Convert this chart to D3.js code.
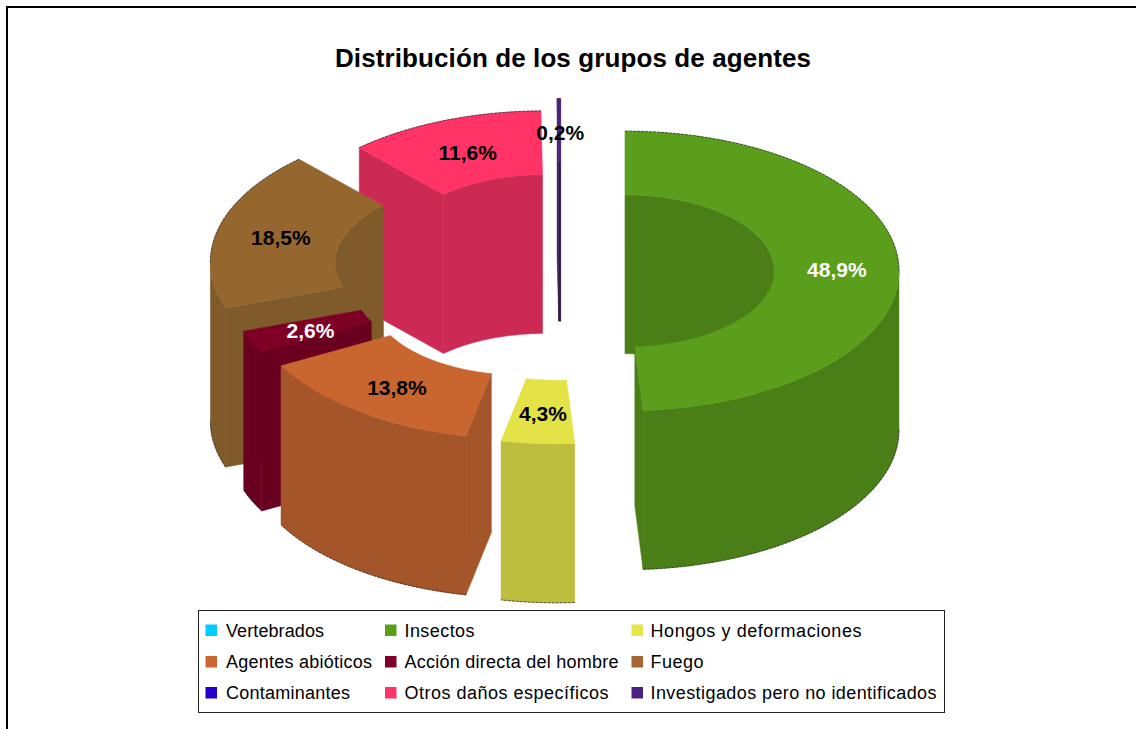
<!DOCTYPE html>
<html><head><meta charset="utf-8">
<script src="https://cdn.jsdelivr.net/npm/d3@7"></script>
<style>html,body{margin:0;padding:0;background:#fff;overflow:hidden}svg{display:block}text{font-family:"Liberation Sans",Arial,sans-serif}</style>
</head><body><svg id="c" width="1136" height="729"></svg>
<script>
const titleText = "Distribución de los grupos de agentes";
const categories = ["Vertebrados","Insectos","Hongos y deformaciones","Agentes abióticos","Acción directa del hombre","Fuego","Contaminantes","Otros daños específicos","Investigados pero no identificados"];
const values = [0,48.9,4.3,13.8,2.6,18.5,0,11.6,0.2];
const explosion = [0,64,63,66,64,79,0,45,66];
const topColors = ["#00ccff","#5a9e1c","#e3e348","#c9652f","#7e0026","#96662f","#2200cc","#ff3366","#4a2180"];
const wallColors = ["#00a0cc","#4a7f18","#bdbd3e","#a5552a","#6a001f","#7f5a2a","#1a00a0","#cc2a55","#33194f"];
const swatchColors = ["#00ccff","#599f1c","#e6e64c","#cc6633","#800028","#a66633","#2200cc","#ff3366","#4d1f80"];
const labelColors = ["#000","#fff","#000","#000","#fff","#000","#000","#000","#000"];
const legendTextWidths = [98,70,211,146,214,53,124,204,286];
const drawOrder = [8,7,5,4,3,2,1];

const svg = d3.select("#c");
svg.append("rect").attr("x",7).attr("y",7).attr("width",1160).attr("height",760).attr("fill","#fff").attr("stroke","#000").attr("stroke-width",2);
svg.append("text").attr("x",335).attr("y",67).attr("textLength",476).attr("lengthAdjust","spacing").attr("font-weight","bold").attr("font-size",26).text(titleText);

const cx0=561, cy0=272, rx=274, tilt=0.51, holeRatio=0.545, depth=159, labelR=0.77;
const radius = d3.scaleLinear().domain([0,1]).range([0,rx]);
const pie = d3.pie().sort(null).value(d=>d).startAngle(0).endAngle(2*Math.PI);
const arcs = pie(values);
const line = d3.line();
function center(i){ const m=(arcs[i].startAngle+arcs[i].endAngle)/2, e=explosion[i];
  return [cx0+e*Math.sin(m), cy0-e*tilt*Math.cos(m)]; }
function pt(c,a,r,z){ return [c[0]+radius(r)*Math.sin(a), c[1]-radius(r)*tilt*Math.cos(a)+z]; }
function samples(a0,a1){ const n=Math.max(2,Math.ceil((a1-a0)/0.02)); return d3.range(n+1).map(k=>a0+(a1-a0)*k/n); }
function wall(c,r,a0,a1){ const s=samples(a0,a1); return line([...s.map(a=>pt(c,a,r,0)),...s.slice().reverse().map(a=>pt(c,a,r,depth))])+"Z"; }
function clipRange(a0,a1,lo,hi){ const x=Math.max(a0,lo), y=Math.min(a1,hi); return x<y?[x,y]:null; }
const PI=Math.PI;
const g = svg.append("g");
drawOrder.forEach(i=>{
  const d=arcs[i], a0=d.startAngle, a1=d.endAngle, c=center(i), sl=g.append("g");
  const paint=(p,col)=>sl.append("path").attr("d",p).attr("fill",col).attr("stroke",col).attr("stroke-width",0.5);
  const edge=p=>sl.append("path").attr("d",p).attr("fill","none").attr("stroke","#222").attr("stroke-width",1).attr("stroke-dasharray","3,1").attr("stroke-opacity",0.7);
  // inner wall: far half only
  [[0,PI/2],[3*PI/2,2*PI]].forEach(([lo,hi])=>{const q=clipRange(a0,a1,lo,hi); if(q) paint(wall(c,holeRatio,q[0],q[1]),wallColors[i]);});
  // cut faces
  const cut=a=>line([pt(c,a,holeRatio,0),pt(c,a,1,0),pt(c,a,1,depth),pt(c,a,holeRatio,depth)])+"Z";
  if(Math.sin(a0)<0) paint(cut(a0),wallColors[i]);
  if(Math.sin(a1)>0) paint(cut(a1),wallColors[i]);
  // outer wall: near half only
  const qo=clipRange(a0,a1,PI/2,3*PI/2);
  if(qo){ paint(wall(c,1,qo[0],qo[1]),wallColors[i]);
    edge(line(samples(qo[0],qo[1]).map(a=>pt(c,a,1,depth))));
  }
  // top face
  const s=samples(a0,a1);
  paint(line([...s.map(a=>pt(c,a,1,0)),...s.slice().reverse().map(a=>pt(c,a,holeRatio,0))])+"Z",topColors[i]);
  [[0,PI/2],[3*PI/2,2*PI]].map(([lo,hi])=>clipRange(a0,a1,lo,hi)).filter(Boolean)
    .forEach(q=>edge(line(samples(q[0],q[1]).map(a=>pt(c,a,1,0)))));
});
// labels
drawOrder.forEach(i=>{
  const d=arcs[i], m=(d.startAngle+d.endAngle)/2, p=pt(center(i),m,labelR,0);
  svg.append("text").attr("x",p[0]+1).attr("y",p[1]+2).attr("dy","0.36em").attr("text-anchor","middle").attr("font-weight","bold").attr("font-size",21).attr("fill",labelColors[i]).text(d3.format(".1f")(values[i]).replace(".",",")+"%");
});
// legend
const legX=d3.scaleOrdinal().domain([0,1,2]).range([205.5,385,631.5]);
const legTextX=d3.scaleOrdinal().domain([0,1,2]).range([226,404.5,650.5]);
const legY=d3.scaleOrdinal().domain([0,1,2]).range([630,661.5,692.5]);
svg.append("rect").attr("x",198.5).attr("y",610.5).attr("width",746).attr("height",102).attr("fill","#fff").attr("stroke","#222").attr("stroke-width",1);
categories.forEach((name,i)=>{
  const col=i%3,row=Math.floor(i/3);
  svg.append("rect").attr("x",legX(col)).attr("y",legY(row)-5.5).attr("width",11.5).attr("height",11.5).attr("fill",swatchColors[i]);
  svg.append("text").attr("x",legTextX(col)).attr("y",legY(row)+6.5).attr("font-size",18).attr("textLength",legendTextWidths[i]).attr("lengthAdjust","spacing").attr("fill","#000").text(name);
});
</script></body></html>
